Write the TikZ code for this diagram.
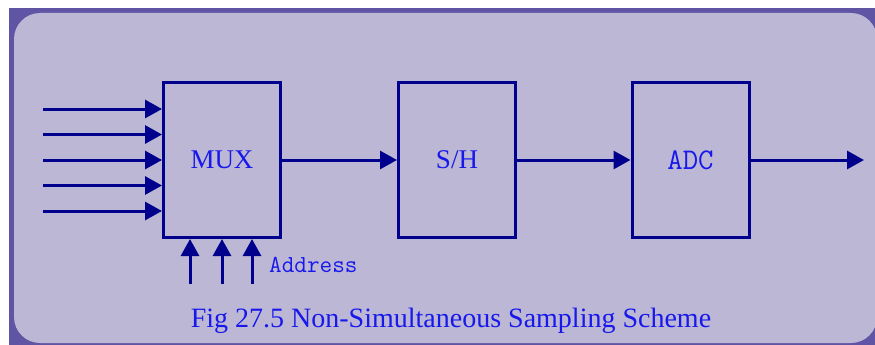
\documentclass[tikz,border=0pt]{standalone}
\usepackage{fontspec}
\setmainfont{Liberation Serif}
\usetikzlibrary{arrows.meta,positioning}
\definecolor{panel}{RGB}{187,183,213}
\definecolor{frame}{RGB}{96,84,164}
\definecolor{navy}{RGB}{0,0,140}
\definecolor{textblue}{RGB}{24,24,235}
\begin{document}
\begin{tikzpicture}[
  x=1pt, y=-1pt,
  block/.style={draw=navy, line width=3pt, minimum width=117pt, minimum height=155pt,
    inner sep=0pt, text=textblue, font=\fontsize{27}{29}\selectfont},
  wire/.style={draw=navy, line width=3pt, -{Triangle[length=17pt,width=18pt]}},
  lbl/.style={text=textblue, inner sep=0pt},
]
  \useasboundingbox (0,0) rectangle (875,345);
  % background panel
  \fill[white] (0,0) rectangle (875,345);
  \fill[frame] (9,8) rectangle (875,345);
  \fill[panel, rounded corners=26pt] (14,13) rectangle (877,343);

  \node[block] (mux) at (222,160) {MUX};
  \node[block] (sh) at (457,160) {S/H};
  \node[block, font=\ttfamily\fontsize{30}{32}\selectfont] (adc) at (690.5,160) {ADC};
  \coordinate (out) at (864,160);

  \draw[wire] (mux) -- (sh);
  \draw[wire] (sh) -- (adc);
  \draw[wire] (adc) -- (out);

  % analog inputs
  \foreach \i/\y in {1/109,2/134.5,3/160,4/185.5,5/211} {
    \coordinate (in\i) at (43,\y);
    \draw[wire] (in\i) -- (in\i -| mux.west);
  }

  % address lines
  \foreach \i/\x in {1/190,2/222,3/252} {
    \coordinate (ad\i) at (\x,284);
    \draw[wire] (ad\i) -- (ad\i |- mux.south);
  }
  \node[lbl, anchor=west, font=\ttfamily\fontsize{24.5}{26}\selectfont] (addr) at (269,265) {Address};

  \node[lbl, font=\fontsize{28}{30}\selectfont] (cap) at (451,321) {Fig 27.5 Non-Simultaneous Sampling Scheme};
\end{tikzpicture}
\end{document}
